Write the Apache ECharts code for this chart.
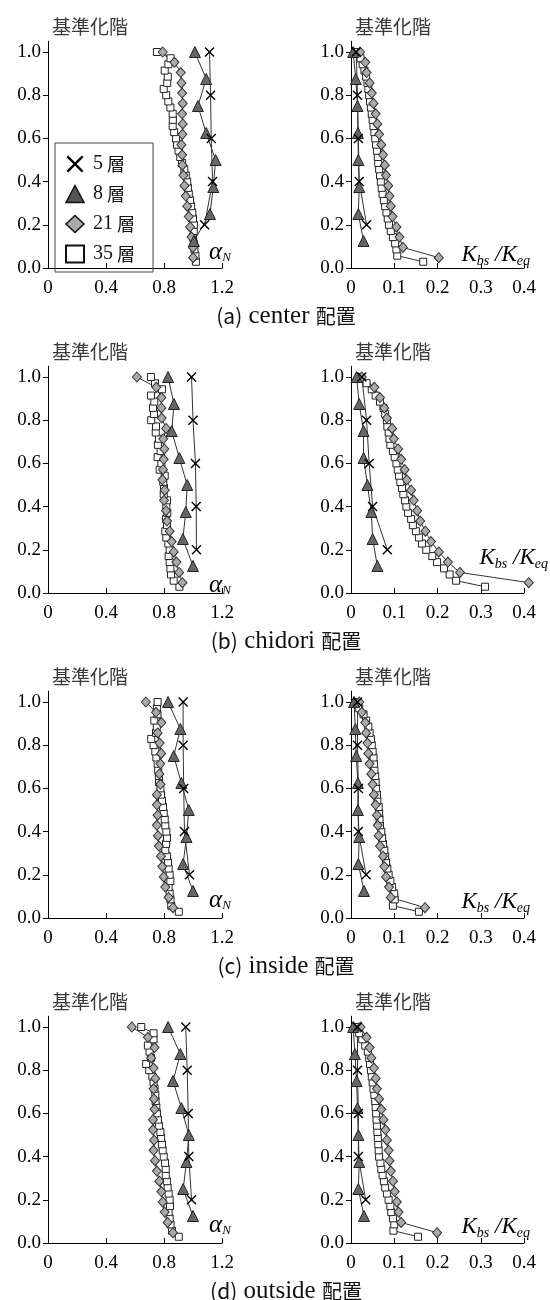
<!DOCTYPE html>
<html>
<head>
<meta charset="utf-8">
<script src="https://cdn.jsdelivr.net/npm/echarts@6.0.0/dist/echarts.min.js"></script>
<style>
  html, body { margin: 0; padding: 0; background: #fff; }
  #chart { width: 550px; height: 1300px; }
</style>
</head>
<body>
<div id="chart"></div>
<script>
// normalized floor levels (floor / total floors)
var levels5 = [0.2, 0.4, 0.6, 0.8, 1.0];
var levels8 = [0.125, 0.25, 0.375, 0.5, 0.625, 0.75, 0.875, 1.0];
var levels21 = [0.048, 0.095, 0.143, 0.190, 0.238, 0.286, 0.333, 0.381, 0.429, 0.476, 0.524,
  0.571, 0.619, 0.667, 0.714, 0.762, 0.810, 0.857, 0.905, 0.952, 1.0];
var levels35 = [0.029, 0.057, 0.086, 0.114, 0.143, 0.171, 0.2, 0.229, 0.257, 0.286, 0.314, 0.343,
  0.371, 0.4, 0.429, 0.457, 0.486, 0.514, 0.543, 0.571, 0.6, 0.629, 0.657, 0.686, 0.714, 0.743,
  0.771, 0.8, 0.829, 0.857, 0.886, 0.914, 0.943, 0.971, 1.0];

var seriesNames = ["5層", "8層", "21層", "35層"];
var floorTicks = [0, 0.2, 0.4, 0.6, 0.8, 1.0];
var captions = [["(a)", "center"], ["(b)", "chidori"], ["(c)", "inside"], ["(d)", "outside"]];

// (a) center  -- alpha_N
var alphaCenter5 = [1.08, 1.135, 1.126, 1.121, 1.114];
var alphaCenter8 = [1.006, 1.117, 1.14, 1.156, 1.091, 1.034, 1.091, 1.013];
var alphaCenter21 = [1.001, 0.999, 0.99, 0.98, 0.971, 0.96, 0.95, 0.941, 0.934, 0.927, 0.925,
  0.92, 0.927, 0.929, 0.925, 0.929, 0.925, 0.92, 0.916, 0.872, 0.791];
var alphaCenter35 = [1.02, 1.017, 1.01, 1.005, 1.0, 1.005, 1.006, 1.0, 0.995, 0.987, 0.98, 0.971,
  0.965, 0.96, 0.95, 0.94, 0.925, 0.912, 0.9, 0.89, 0.883, 0.87, 0.86, 0.861, 0.86, 0.844,
  0.83, 0.815, 0.798, 0.822, 0.826, 0.805, 0.83, 0.845, 0.751];
// (a) center  -- Kbs/Keq
var kCenter5 = [0.036, 0.019, 0.017, 0.015, 0.012];
var kCenter8 = [0.029, 0.017, 0.019, 0.017, 0.016, 0.015, 0.011, 0.005];
var kCenter21 = [0.203, 0.12, 0.112, 0.105, 0.096, 0.092, 0.089, 0.086, 0.081, 0.078, 0.074,
  0.07, 0.065, 0.061, 0.057, 0.052, 0.048, 0.043, 0.036, 0.033, 0.021];
var kCenter35 = [0.167, 0.107, 0.105, 0.102, 0.097, 0.092, 0.088, 0.085, 0.082, 0.079, 0.076,
  0.073, 0.071, 0.069, 0.067, 0.065, 0.063, 0.062, 0.06, 0.058, 0.056, 0.054, 0.052, 0.05,
  0.048, 0.046, 0.044, 0.042, 0.04, 0.038, 0.035, 0.031, 0.027, 0.022, 0.015];

// (b) chidori
var alphaChidori5 = [1.024, 1.022, 1.017, 1.0, 0.99];
var alphaChidori8 = [1.0, 0.93, 0.95, 0.96, 0.906, 0.853, 0.869, 0.828];
var alphaChidori21 = [0.927, 0.904, 0.886, 0.867, 0.853, 0.839, 0.821, 0.814, 0.8, 0.805, 0.789,
  0.793, 0.798, 0.802, 0.795, 0.814, 0.784, 0.782, 0.782, 0.747, 0.613];
var alphaChidori35 = [0.906, 0.867, 0.848, 0.844, 0.839, 0.832, 0.839, 0.83, 0.816, 0.809, 0.821,
  0.814, 0.823, 0.816, 0.821, 0.798, 0.8, 0.795, 0.805, 0.77, 0.782, 0.756, 0.777, 0.758, 0.765,
  0.743, 0.745, 0.712, 0.731, 0.724, 0.733, 0.71, 0.786, 0.738, 0.71];
var kChidori5 = [0.084, 0.05, 0.042, 0.036, 0.025];
var kChidori8 = [0.061, 0.05, 0.047, 0.038, 0.029, 0.029, 0.019, 0.013];
var kChidori21 = [0.411, 0.252, 0.224, 0.203, 0.185, 0.172, 0.16, 0.153, 0.145, 0.139, 0.129,
  0.124, 0.116, 0.109, 0.099, 0.095, 0.083, 0.077, 0.067, 0.054, 0.025];
var kChidori35 = [0.31, 0.243, 0.228, 0.215, 0.199, 0.188, 0.174, 0.164, 0.157, 0.15, 0.143,
  0.139, 0.132, 0.128, 0.125, 0.121, 0.118, 0.114, 0.111, 0.108, 0.105, 0.101, 0.097, 0.091,
  0.089, 0.087, 0.084, 0.083, 0.079, 0.075, 0.067, 0.057, 0.048, 0.036, 0.021];

// (c) inside
var alphaInside5 = [0.976, 0.941, 0.936, 0.932, 0.932];
var alphaInside8 = [1.0, 0.932, 0.955, 0.971, 0.92, 0.867, 0.913, 0.828];
var alphaInside21 = [0.862, 0.832, 0.809, 0.798, 0.788, 0.779, 0.765, 0.758, 0.751, 0.756, 0.751,
  0.751, 0.775, 0.768, 0.775, 0.78, 0.77, 0.756, 0.782, 0.745, 0.675];
var alphaInside35 = [0.902, 0.85, 0.845, 0.839, 0.832, 0.844, 0.839, 0.832, 0.828, 0.821, 0.809,
  0.814, 0.821, 0.816, 0.809, 0.805, 0.798, 0.793, 0.786, 0.779, 0.775, 0.765, 0.765, 0.76,
  0.756, 0.747, 0.74, 0.728, 0.712, 0.745, 0.75, 0.733, 0.755, 0.751, 0.756];
var kInside5 = [0.035, 0.017, 0.017, 0.015, 0.015];
var kInside8 = [0.03, 0.017, 0.019, 0.016, 0.016, 0.012, 0.01, 0.007];
var kInside21 = [0.171, 0.092, 0.088, 0.081, 0.077, 0.074, 0.067, 0.064, 0.062, 0.06, 0.057,
  0.053, 0.05, 0.047, 0.043, 0.04, 0.038, 0.035, 0.033, 0.025, 0.019];
var kInside35 = [0.157, 0.097, 0.101, 0.1, 0.095, 0.091, 0.087, 0.084, 0.081, 0.079, 0.077,
  0.074, 0.072, 0.07, 0.067, 0.066, 0.065, 0.064, 0.061, 0.06, 0.058, 0.057, 0.056, 0.054,
  0.053, 0.052, 0.05, 0.048, 0.046, 0.043, 0.04, 0.035, 0.029, 0.019, 0.015];

// (d) outside
var alphaOutside5 = [0.99, 0.971, 0.967, 0.96, 0.95];
var alphaOutside8 = [1.0, 0.932, 0.955, 0.971, 0.92, 0.862, 0.913, 0.828];
var alphaOutside21 = [0.862, 0.825, 0.805, 0.791, 0.782, 0.768, 0.751, 0.738, 0.728, 0.731, 0.724,
  0.724, 0.735, 0.731, 0.728, 0.74, 0.728, 0.712, 0.735, 0.689, 0.578];
var alphaOutside35 = [0.902, 0.855, 0.845, 0.839, 0.832, 0.841, 0.839, 0.832, 0.825, 0.82, 0.812,
  0.812, 0.807, 0.798, 0.791, 0.786, 0.78, 0.775, 0.765, 0.758, 0.751, 0.747, 0.742, 0.74,
  0.735, 0.728, 0.72, 0.698, 0.677, 0.71, 0.7, 0.689, 0.728, 0.728, 0.643];
var kOutside5 = [0.034, 0.017, 0.017, 0.015, 0.015];
var kOutside8 = [0.03, 0.017, 0.019, 0.017, 0.015, 0.013, 0.009, 0.005];
var kOutside21 = [0.199, 0.116, 0.11, 0.106, 0.101, 0.097, 0.092, 0.089, 0.087, 0.083, 0.08,
  0.075, 0.07, 0.065, 0.06, 0.057, 0.053, 0.047, 0.043, 0.036, 0.022];
var kOutside35 = [0.155, 0.098, 0.1, 0.097, 0.093, 0.091, 0.087, 0.083, 0.079, 0.076, 0.073,
  0.07, 0.068, 0.065, 0.064, 0.063, 0.062, 0.061, 0.06, 0.059, 0.058, 0.057, 0.056, 0.054,
  0.052, 0.05, 0.048, 0.046, 0.044, 0.042, 0.039, 0.033, 0.026, 0.019, 0.013];

var panelData = [
  [[alphaCenter5, alphaCenter8, alphaCenter21, alphaCenter35], [kCenter5, kCenter8, kCenter21, kCenter35]],
  [[alphaChidori5, alphaChidori8, alphaChidori21, alphaChidori35], [kChidori5, kChidori8, kChidori21, kChidori35]],
  [[alphaInside5, alphaInside8, alphaInside21, alphaInside35], [kInside5, kInside8, kInside21, kInside35]],
  [[alphaOutside5, alphaOutside8, alphaOutside21, alphaOutside35], [kOutside5, kOutside8, kOutside21, kOutside35]]
];
var levelSets = [levels5, levels8, levels21, levels35];

var myChart = echarts.init(document.getElementById("chart"));

var serif = "Liberation Serif";
var cjk = "Noto Sans CJK JP";
var crossPath = "path://M2,0L10,8L18,0L20,2L12,10L20,18L18,20L10,12L2,20L0,18L8,10L0,2Z";

var markStyle = [
  { symbol: crossPath, symbolSize: 10, itemStyle: { color: "#000", borderWidth: 0 } },
  { symbol: "triangle", symbolSize: 11, itemStyle: { color: "#666", borderColor: "#222", borderWidth: 1 } },
  { symbol: "diamond", symbolSize: [9, 10], itemStyle: { color: "#aaa", borderColor: "#333", borderWidth: 1 } },
  { symbol: "rect", symbolSize: 7, itemStyle: { color: "#fff", borderColor: "#222", borderWidth: 1 } }
];

// tick labels go through rich text so the serif face is used
var tickRich = { t: { fontFamily: serif, fontSize: 19, color: "#000" } };

var rowStep = 325;
var plotH = 216 * 1.05;
var grids = [], xAxes = [], yAxes = [], series = [], graphics = [];

function fmtX(v) {
  return "{t|" + (v === 0 ? "0" : String(+v.toFixed(1))) + "}";
}
function fmtY(v) {
  return "{t|" + v.toFixed(1) + "}";
}

for (var r = 0; r < 4; r++) {
  var bottom = 268 + rowStep * r;
  for (var side = 0; side < 2; side++) {
    var idx = r * 2 + side;
    grids.push({
      left: side ? 351 : 48,
      top: bottom - plotH,
      width: side ? 173 : 174,
      height: plotH,
      outerBoundsMode: "none"
    });
    xAxes.push({
      gridIndex: idx,
      type: "value",
      min: 0,
      max: side ? 0.4 : 1.2,
      interval: side ? 0.1 : 0.4,
      axisLine: { show: true, onZero: false, lineStyle: { color: "#000", width: 1 } },
      axisTick: { show: true, inside: true, length: 5, lineStyle: { color: "#000" } },
      axisLabel: { margin: 11, fontFamily: serif, fontSize: 19, color: "#000", formatter: fmtX, rich: tickRich },
      splitLine: { show: false }
    });
    yAxes.push({
      gridIndex: idx,
      type: "value",
      min: 0,
      max: 1.05,
      axisLine: { show: true, lineStyle: { color: "#000", width: 1 } },
      axisTick: { show: true, inside: false, length: 5, customValues: floorTicks, lineStyle: { color: "#000" } },
      axisLabel: {
        margin: 7, fontFamily: serif, fontSize: 19, color: "#000", customValues: floorTicks,
        formatter: fmtY, rich: tickRich
      },
      splitLine: { show: false }
    });
    // draw 35 first so that 5 sits on top
    for (var s = 3; s >= 0; s--) {
      var xs = panelData[r][side][s];
      var lv = levelSets[s];
      series.push({
        name: seriesNames[s],
        type: "line",
        xAxisIndex: idx,
        yAxisIndex: idx,
        data: xs.map(function (x, i) { return [x, lv[i]]; }),
        symbol: markStyle[s].symbol,
        symbolSize: markStyle[s].symbolSize,
        showAllSymbol: true,
        itemStyle: markStyle[s].itemStyle,
        lineStyle: { color: "#333", width: 1 },
        clip: false,
        animation: false,
        emphasis: { disabled: true }
      });
    }
    // y-axis name
    graphics.push({
      type: "text",
      left: (side ? 351 : 48) + 4,
      top: 17 + rowStep * r,
      style: { text: "基準化階", fontFamily: cjk, fontSize: 19, fill: "#3a3a3a" }
    });
  }
}

// x-axis names
var alphaY = [252, 585, 900, 1225];
var kY = [255, 558, 902, 1227];
var kRight = [530, 548, 530, 530];
for (var r2 = 0; r2 < 4; r2++) {
  graphics.push({
    type: "text",
    x: 220, y: alphaY[r2],
    style: {
      text: "{a|α}{s|N}", align: "center", verticalAlign: "middle",
      rich: {
        a: { fontFamily: serif, fontStyle: "italic", fontSize: 25, fill: "#000" },
        s: { fontFamily: serif, fontStyle: "italic", fontSize: 13, fill: "#000", padding: [12, 0, 0, 0] }
      }
    }
  });
  graphics.push({
    type: "text",
    x: kRight[r2], y: kY[r2],
    style: {
      text: "{k|K}{s|bs}{k| /K}{s|eq}", align: "right", verticalAlign: "middle",
      rich: {
        k: { fontFamily: serif, fontStyle: "italic", fontSize: 23, fill: "#000" },
        s: { fontFamily: serif, fontStyle: "italic", fontSize: 14, fill: "#000", padding: [12, 0, 0, 0] }
      }
    }
  });
}

// captions
for (var r3 = 0; r3 < 4; r3++) {
  graphics.push({
    type: "text", x: 286, y: 316 + rowStep * r3,
    style: {
      text: "{p|" + captions[r3][0] + "}{s| " + captions[r3][1] + " }{j|配置}",
      align: "center", verticalAlign: "middle",
      rich: {
        p: { fontFamily: cjk, fontSize: 21, fill: "#111" },
        s: { fontFamily: serif, fontSize: 25, fill: "#111" },
        j: { fontFamily: cjk, fontSize: 20, fill: "#111" }
      }
    }
  });
}

var option = {
  backgroundColor: "#fff",
  animation: false,
  legend: {
    orient: "vertical",
    left: 55,
    top: 143,
    padding: [11, 18, 8, 10],
    itemGap: 10,
    itemWidth: 18,
    itemHeight: 17,
    borderColor: "#444",
    borderWidth: 1,
    selectedMode: false,
    data: [
      { name: "5層", icon: crossPath, itemStyle: { color: "#000", borderWidth: 0 } },
      { name: "8層", icon: "triangle", itemStyle: { color: "#555", borderColor: "#111", borderWidth: 1.5 } },
      { name: "21層", icon: "diamond", itemStyle: { color: "#aaa", borderColor: "#111", borderWidth: 1.5 } },
      { name: "35層", icon: "rect", itemStyle: { color: "#fff", borderColor: "#111", borderWidth: 2 } }
    ],
    formatter: function (name) {
      return "{n|" + name.slice(0, -1) + "}{c| 層}";
    },
    textStyle: {
      color: "#111",
      padding: [0, 0, 0, 4],
      rich: {
        n: { fontFamily: serif, fontSize: 20, color: "#111" },
        c: { fontFamily: cjk, fontSize: 18, color: "#111" }
      }
    }
  },
  grid: grids,
  xAxis: xAxes,
  yAxis: yAxes,
  series: series,
  graphic: graphics
};

myChart.setOption(option);
window.onresize = function () {
  myChart.resize();
};
</script>
</body>
</html>
